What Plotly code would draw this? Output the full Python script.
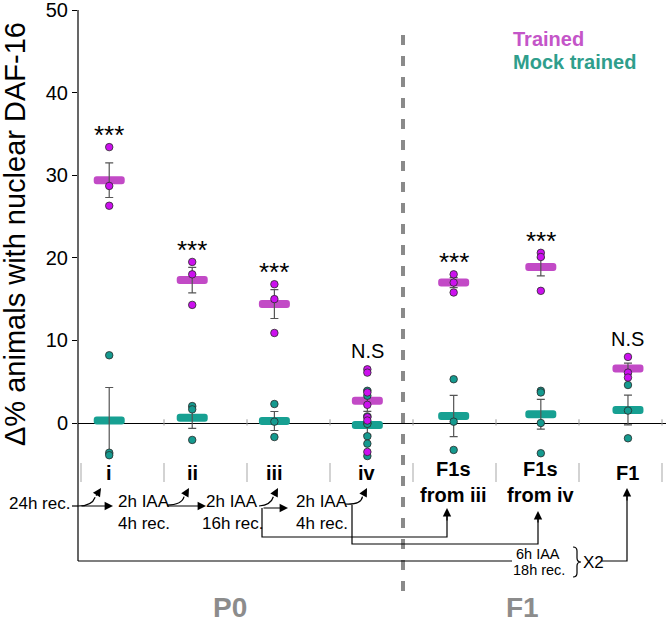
import plotly.graph_objects as go

# ---------------- data ----------------
groups = ["i", "ii", "iii", "iv", "F1s<br>from iii", "F1s<br>from iv", "F1"]
trained_points = [
    [33.4, 28.7, 26.3],
    [19.5, 18.0, 14.3],
    [16.8, 15.0, 10.9],
    [6.5, 6.1, 3.7, 2.2, 0.7, 0.3, -3.5],
    [18.0, 17.0, 15.8],
    [20.6, 20.1, 16.0],
    [8.0, 6.1, 5.5],
]
trained_mean = [29.4, 17.3, 14.4, 2.7, 17.0, 18.9, 6.6]
trained_sem = [2.1, 1.55, 1.75, 1.3, 0.6, 1.1, 0.65]
mock_points = [
    [8.2, -3.6, -3.9],
    [2.05, 1.65, -2.05],
    [2.3, 0.16, -1.7],
    [3.9, 3.3, 0.8, 0.0, -0.1, -1.6, -2.5, -4.0],
    [5.3, 0.16, -3.26],
    [3.9, 3.7, 0.0, -3.66],
    [4.6, 1.5, -1.85],
]
mock_mean = [0.3, 0.64, 0.24, -0.24, 0.85, 1.05, 1.57]
mock_sem = [4.0, 1.3, 1.15, 1.2, 2.5, 1.8, 1.8]
sig_labels = ["***", "***", "***", "N.S", "***", "***", "N.S"]
y_ticks = [0, 10, 20, 30, 40, 50]

# ---------------- layout helpers ----------------
group_x = [0.34, 1.34, 2.33, 3.45, 4.49, 5.54, 6.59]
W, H = 666, 630
L, T = 78, 10
Y0_PX = 423
PPU = (Y0_PX - T) / 50.0
Y_BOT = -(H - Y0_PX) / PPU
SEP0, SLOT = 81.0, 83.0
X_RANGE = [(L - SEP0) / SLOT, (W - SEP0) / SLOT]

FONT = "Liberation Sans, Arial, sans-serif"
MAG_PT, MAG_BAR = "#cc10ee", "#c24ac6"
TEAL_PT, TEAL_BAR = "#159a8f", "#17a092"


def dx(px):
    return (px - SEP0) / SLOT


def dy(py):
    return (Y0_PX - py) / PPU


def px_paper(px):
    return (px - L) / (W - L)


def path(cmds):
    out = []
    for c in cmds:
        op, pts = c[0], c[1:]
        coords = []
        for i in range(0, len(pts), 2):
            coords.append(f"{dx(pts[i]):.4f},{dy(pts[i+1]):.4f}")
        out.append(op + " " + " ".join(coords))
    return " ".join(out)


fig = go.Figure()

BAR_H = 8 / PPU
BAR_W = 31 / SLOT
for means, col in [(trained_mean, MAG_BAR), (mock_mean, TEAL_BAR)]:
    fig.add_trace(go.Bar(
        x=group_x, y=[BAR_H] * len(means), base=[m - BAR_H / 2 for m in means],
        width=BAR_W, marker=dict(color=col, line_width=0, cornerradius=3),
        hoverinfo="skip", showlegend=False))

for means, sems in [(trained_mean, trained_sem), (mock_mean, mock_sem)]:
    fig.add_trace(go.Scatter(
        x=group_x, y=means, mode="markers", marker=dict(size=2, opacity=0),
        error_y=dict(type="data", array=sems, color="#555555", thickness=1.2, width=4),
        showlegend=False, hoverinfo="skip"))

for pts, col in [(mock_points, TEAL_PT), (trained_points, MAG_PT)]:
    xs, ys = [], []
    for gx, p in zip(group_x, pts):
        xs += [gx] * len(p)
        ys += p
    fig.add_trace(go.Scatter(
        x=xs, y=ys, mode="markers",
        marker=dict(size=7.5, color=col, line=dict(color="#2a2a2a", width=0.8)),
        showlegend=False, cliponaxis=False))

shapes = []
# y axis line continuing into the flow chart
shapes.append(dict(type="line", xref="paper", yref="y", x0=0, x1=0, y0=50, y1=dy(561),
                   line=dict(color="black", width=1.2)))
# start of the flow chart left of the axis
shapes.append(dict(type="line", xref="paper", yref="y", x0=px_paper(72), x1=0, y0=dy(506), y1=dy(506),
                   line=dict(color="black", width=1.2)))
# grey separators in label row and small ticks on zero line
for k in range(8):
    shapes.append(dict(type="line", xref="x", yref="y", x0=k, x1=k, y0=dy(463), y1=dy(482),
                       line=dict(color="#c4c4c4", width=1.5)))
    if k > 0:
        shapes.append(dict(type="line", xref="x", yref="y", x0=k, x1=k, y0=-0.3, y1=0.45,
                           line=dict(color="#9a9a9a", width=1)))
# dashed divider
shapes.append(dict(type="line", xref="x", yref="y", x0=dx(403), x1=dx(403), y0=dy(35), y1=dy(593),
                   line=dict(color="#8a8a8a", width=4, dash="10px,11px")))

LINE = dict(color="black", width=1.2)
flow_paths = [
    [("M", 262, 508), ("L", 262, 537), ("L", 447, 537), ("L", 447, 514)],
    [("M", 352, 505), ("L", 352, 544), ("L", 538, 544), ("L", 538, 517)],
    [("M", 78, 561), ("L", 512, 561)],
    [("M", 602, 561), ("L", 627, 561), ("L", 627, 494)],
    # brace
    [("M", 573, 547), ("Q", 577, 547, 577, 551), ("L", 577, 558), ("Q", 577, 562, 581, 562),
     ("Q", 577, 562, 577, 566), ("L", 577, 573), ("Q", 577, 577, 573, 577)],
]
for p in flow_paths:
    shapes.append(dict(type="path", xref="x", yref="y", path=path(p), line=LINE))

curves = [((78, 506), (92, 506), (101, 488)),
          ((167, 505), (182, 505), (189, 488)),
          ((259, 506), (271, 505), (278, 488)),
          ((345, 504), (361, 505), (367, 488))]
arrows = []
for p0, c, p1 in curves:
    t = 0.7
    qx = (1 - t) ** 2 * p0[0] + 2 * (1 - t) * t * c[0] + t ** 2 * p1[0]
    qy = (1 - t) ** 2 * p0[1] + 2 * (1 - t) * t * c[1] + t ** 2 * p1[1]
    shapes.append(dict(type="path", xref="x", yref="y",
                       path=path([("M", p0[0], p0[1]), ("Q", c[0], c[1], qx, qy)]), line=LINE))
    arrows.append(((qx, qy), p1))

arrows += [((80, 506), (113, 506)), ((166, 506), (206, 506)), ((262, 508), (288, 508)),
           ((447, 522), (447, 508)), ((538, 524), (538, 511)), ((627, 502), (627, 488))]

annotations = []
for (tx, ty), (hx, hy) in arrows:
    annotations.append(dict(x=dx(hx), y=dy(hy), ax=dx(tx), ay=dy(ty), axref="x", ayref="y",
                            xref="x", yref="y", text="", showarrow=True, arrowhead=2,
                            arrowsize=1.4, arrowwidth=1.2, arrowcolor="black", standoff=0))

# significance labels
for gx, pts, lab in zip(group_x, trained_points, sig_labels):
    is_star = lab == "***"
    annotations.append(dict(x=gx, y=max(pts) + 2.2, xref="x", yref="y", text=lab, showarrow=False,
                            yshift=-6 if is_star else 0,
                            font=dict(family=FONT, size=26 if is_star else 20, color="black")))

# category labels
for gx, g in zip(group_x, groups):
    two = "<br>" in g
    annotations.append(dict(x=gx, y=dy(482 if two else 473), xref="x", yref="y",
                            text=f"<b>{g}</b>", showarrow=False,
                            font=dict(family=FONT, size=20, color="black")))

flow_texts = [("2h IAA", 116, 501, 17), ("4h rec.", 116, 523, 17), ("2h IAA", 204, 501, 17),
              ("16h rec.", 200, 523, 17), ("2h IAA", 294, 501, 17), ("4h rec.", 294, 523, 17),
              ("6h IAA", 514, 554, 14.5), ("18h rec.", 511, 570, 14.5), ("X2", 581, 562, 17)]
for txt, x, y, sz in flow_texts:
    annotations.append(dict(x=dx(x), y=dy(y), xref="x", yref="y", text=txt, showarrow=False,
                            xanchor="left", font=dict(family=FONT, size=sz, color="black")))
annotations.append(dict(x=px_paper(72), y=dy(503), xref="paper", yref="y", text="24h rec.",
                        showarrow=False, xanchor="right",
                        font=dict(family=FONT, size=17, color="black")))

for txt, x in [("P0", 230), ("F1", 522)]:
    annotations.append(dict(x=dx(x), y=dy(607), xref="x", yref="y", text=f"<b>{txt}</b>",
                            showarrow=False, font=dict(family=FONT, size=28, color="#8c8c8c")))

annotations.append(dict(x=dx(511), y=dy(39), xref="x", yref="y", text="<b>Trained</b>",
                        xanchor="left", showarrow=False,
                        font=dict(family=FONT, size=20, color="#c455c8")))
annotations.append(dict(x=dx(511), y=dy(62), xref="x", yref="y", text="<b>Mock trained</b>",
                        xanchor="left", showarrow=False,
                        font=dict(family=FONT, size=20, color="#2f9e8c")))

annotations.append(dict(x=px_paper(15), y=dy(234), xref="paper", yref="y", xanchor="center",
                        text="Δ% animals with nuclear DAF-16", textangle=-90, showarrow=False,
                        font=dict(family=FONT, size=29, color="black")))

fig.update_layout(
    width=W, height=H, margin=dict(l=L, r=0, t=T, b=0),
    paper_bgcolor="white", plot_bgcolor="white", barmode="overlay", showlegend=False,
    shapes=shapes, annotations=annotations,
    xaxis=dict(range=X_RANGE, visible=False, fixedrange=True),
    yaxis=dict(range=[Y_BOT, 50], tickvals=y_ticks, ticks="outside", ticklen=5, tickwidth=1.2,
               tickcolor="black", showline=False, showgrid=False, zeroline=True,
               zerolinecolor="black", zerolinewidth=1.2, ticklabeloverflow="allow",
               tickfont=dict(family=FONT, size=20, color="black"), fixedrange=True),
)

fig.write_html("out.html", config={"displayModeBar": False},
               post_script="document.body.style.margin='0';")
